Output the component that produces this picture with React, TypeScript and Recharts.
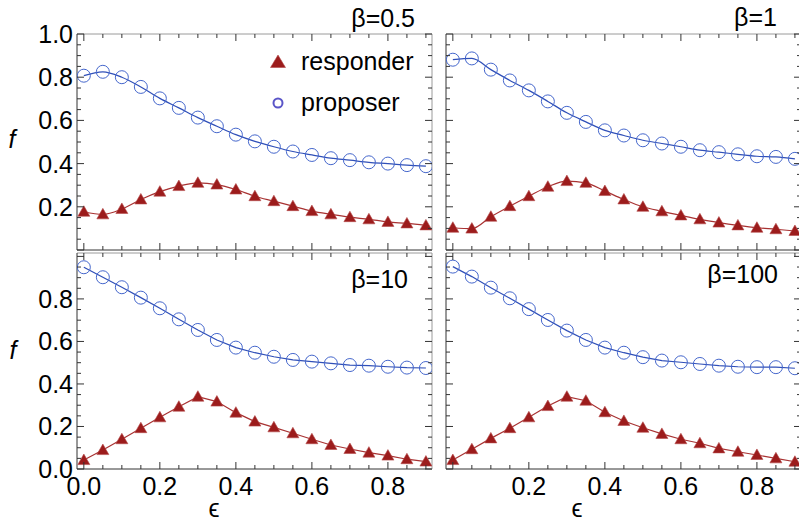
import { Legend, Line, LineChart, XAxis, YAxis } from "recharts";

// epsilon values (x) shared by every panel
const eps = [0, 0.05, 0.1, 0.15, 0.2, 0.25, 0.3, 0.35, 0.4, 0.45, 0.5, 0.55, 0.6, 0.65, 0.7, 0.75, 0.8, 0.85, 0.9];

// beta = 0.5
const responderB05 = [0.177, 0.165, 0.19, 0.234, 0.27, 0.296, 0.311, 0.303, 0.28, 0.249, 0.226, 0.203, 0.18, 0.165, 0.152, 0.142, 0.13, 0.123, 0.114];
const proposerB05 = [0.807, 0.825, 0.8, 0.755, 0.702, 0.658, 0.613, 0.573, 0.534, 0.503, 0.478, 0.456, 0.44, 0.425, 0.416, 0.406, 0.4, 0.393, 0.388];
// beta = 1
const responderB1 = [0.103, 0.099, 0.154, 0.203, 0.249, 0.293, 0.319, 0.311, 0.273, 0.234, 0.2, 0.179, 0.16, 0.142, 0.127, 0.114, 0.103, 0.096, 0.088];
const proposerB1 = [0.881, 0.887, 0.835, 0.785, 0.739, 0.688, 0.635, 0.593, 0.554, 0.53, 0.508, 0.493, 0.478, 0.462, 0.453, 0.443, 0.434, 0.431, 0.422];
// beta = 10
const responderB10 = [0.042, 0.089, 0.14, 0.192, 0.243, 0.293, 0.34, 0.317, 0.265, 0.223, 0.196, 0.168, 0.14, 0.113, 0.094, 0.077, 0.063, 0.046, 0.035];
const proposerB10 = [0.949, 0.902, 0.855, 0.806, 0.756, 0.704, 0.654, 0.607, 0.571, 0.547, 0.528, 0.513, 0.505, 0.497, 0.489, 0.486, 0.481, 0.477, 0.475];
// beta = 100
const responderB100 = [0.042, 0.093, 0.144, 0.192, 0.243, 0.296, 0.34, 0.321, 0.267, 0.226, 0.194, 0.165, 0.14, 0.121, 0.097, 0.081, 0.066, 0.05, 0.034];
const proposerB100 = [0.952, 0.905, 0.853, 0.803, 0.752, 0.701, 0.651, 0.607, 0.571, 0.547, 0.526, 0.51, 0.502, 0.494, 0.486, 0.481, 0.479, 0.479, 0.474];

const seriesNames = ["responder", "proposer"];
const xTicks = [0, 0.05, 0.1, 0.15, 0.2, 0.25, 0.3, 0.35, 0.4, 0.45, 0.5, 0.55, 0.6, 0.65, 0.7, 0.75, 0.8, 0.85, 0.9];
const yTicks = [0, 0.05, 0.1, 0.15, 0.2, 0.25, 0.3, 0.35, 0.4, 0.45, 0.5, 0.55, 0.6, 0.65, 0.7, 0.75, 0.8, 0.85, 0.9, 0.95, 1.0];
const xLabelsLeft = [0, 0.2, 0.4, 0.6, 0.8];
const xLabelsRight = [0.2, 0.4, 0.6, 0.8];
const yLabelsTop = [0.2, 0.4, 0.6, 0.8, 1.0];
const yLabelsBottom = [0, 0.2, 0.4, 0.6, 0.8];

const FONT = '"Liberation Sans", Arial, Helvetica, sans-serif';
const FS = 25;
const RED = "#9c1c1c";
const RED_LINE = "#a83232";
const BLUE = "#4466cc";
const BLUE_LINE = "#2f4fb8";
const DARK = "#333";
const LIGHT = "#9a9a9a";
const X_DOMAIN = [-0.018, 0.916];

const hasValue = (list: number[], v: number) => list.some((l) => Math.abs(l - v) < 1e-6);
const isMajor = (v: number) => Math.abs(v / 0.2 - Math.round(v / 0.2)) < 1e-6;

function FrameTick(props: any) {
  const { x, y, payload, side, labels } = props;
  const v = payload.value;
  const len = isMajor(v) ? 7 : 4;
  let mark;
  let label = null;
  if (side === "bottom") mark = <line x1={x} y1={y} x2={x} y2={y - len} stroke={DARK} />;
  else if (side === "top") mark = <line x1={x} y1={y} x2={x} y2={y + len} stroke={DARK} />;
  else if (side === "left") mark = <line x1={x} y1={y} x2={x + len} y2={y} stroke={DARK} />;
  else mark = <line x1={x} y1={y} x2={x - len} y2={y} stroke={DARK} />;
  if (labels && hasValue(labels, v)) {
    if (side === "bottom")
      label = (
        <text x={x} y={y + 26} textAnchor="middle" fontFamily={FONT} fontSize={FS} fill="#000" stroke="none">
          {v.toFixed(1)}
        </text>
      );
    if (side === "left")
      label = (
        <text x={x - 4} y={y + 9} textAnchor="end" fontFamily={FONT} fontSize={FS} fill="#000" stroke="none">
          {v.toFixed(1)}
        </text>
      );
  }
  return (
    <g>
      {mark}
      {label}
    </g>
  );
}

function TriangleDot(props: any) {
  const { cx, cy } = props;
  if (cx == null || cy == null) return null;
  return (
    <polygon
      points={`${cx},${cy - 6} ${cx - 6},${cy + 4.5} ${cx + 6},${cy + 4.5}`}
      fill={RED}
      stroke="#b54a4a"
      strokeWidth={0.6}
    />
  );
}

function LegendBox(props: any) {
  const items = [...(props.payload || [])].sort(
    (a: any, b: any) => seriesNames.indexOf(a.value) - seriesNames.indexOf(b.value)
  );
  return (
    <div style={{ fontFamily: FONT, fontSize: FS, color: "#000" }}>
      {items.map((entry: any) => (
        <div key={entry.value} style={{ display: "flex", alignItems: "center", height: 41 }}>
          <svg width={24} height={24}>
            {entry.value === "responder" ? (
              <polygon points="12,5 4.5,17.5 19.5,17.5" fill={RED} stroke="#b54a4a" strokeWidth={0.6} />
            ) : (
              <circle cx={12} cy={12} r={4.5} fill="none" stroke="#5a55c8" strokeWidth={2} />
            )}
          </svg>
          <span style={{ marginLeft: 11 }}>{entry.value}</span>
        </div>
      ))}
    </div>
  );
}

function Panel({
  responder,
  proposer,
  left,
  top,
  width,
  height,
  topH,
  bottomH,
  leftW,
  rightW,
  yDomain,
  xLabels,
  yLabels,
  curve,
  legend,
  children,
}: any) {
  const data = eps.map((x, i) => ({ x, responder: responder[i], proposer: proposer[i] }));
  return (
    <div style={{ position: "absolute", left, top, width, height }}>
      <LineChart width={width} height={height} data={data} margin={{ top: 0, right: 0, bottom: 0, left: 0 }}>
        <XAxis
          xAxisId="b"
          dataKey="x"
          type="number"
          domain={X_DOMAIN}
          allowDataOverflow
          ticks={xTicks}
          interval={0}
          height={bottomH}
          tickSize={0}
          tickMargin={0}
          axisLine={{ stroke: DARK }}
          tickLine={false}
          tick={(p: any) => <FrameTick {...p} side="bottom" labels={xLabels} />}
        />
        <XAxis
          xAxisId="t"
          orientation="top"
          dataKey="x"
          type="number"
          domain={X_DOMAIN}
          allowDataOverflow
          ticks={xTicks}
          interval={0}
          height={topH}
          tickSize={0}
          tickMargin={0}
          axisLine={{ stroke: LIGHT }}
          tickLine={false}
          tick={(p: any) => <FrameTick {...p} side="top" />}
        />
        <YAxis
          yAxisId="l"
          type="number"
          domain={yDomain}
          allowDataOverflow
          ticks={yTicks}
          interval={0}
          width={leftW}
          tickSize={0}
          tickMargin={0}
          axisLine={{ stroke: DARK }}
          tickLine={false}
          tick={(p: any) => <FrameTick {...p} side="left" labels={yLabels} />}
        />
        <YAxis
          yAxisId="r"
          orientation="right"
          type="number"
          domain={yDomain}
          allowDataOverflow
          ticks={yTicks}
          interval={0}
          width={rightW}
          tickSize={0}
          tickMargin={0}
          axisLine={{ stroke: LIGHT }}
          tickLine={false}
          tick={(p: any) => <FrameTick {...p} side="right" />}
        />
        <Line
          xAxisId="b"
          yAxisId="l"
          name="responder"
          dataKey="responder"
          type={curve}
          stroke={RED_LINE}
          strokeWidth={1.2}
          dot={(p: any) => <TriangleDot key={`t-${p.index}`} {...p} />}
          isAnimationActive={false}
        />
        <Line
          xAxisId="b"
          yAxisId="l"
          name="proposer"
          dataKey="proposer"
          type={curve}
          stroke={BLUE_LINE}
          strokeWidth={1.2}
          dot={{ r: 6.5, fill: "none", stroke: BLUE, strokeWidth: 1 }}
          isAnimationActive={false}
        />
        {legend && (
          <Legend
            layout="vertical"
            align="center"
            verticalAlign="middle"
            content={<LegendBox />}
            wrapperStyle={{ position: "absolute", left: 266, top: 41, width: "auto", height: "auto" }}
          />
        )}
        {children}
      </LineChart>
    </div>
  );
}

const textStyle = { fontFamily: FONT, fontSize: FS, fill: "#000" };

export default function App() {
  return (
    <div
      style={{
        position: "absolute",
        left: 0,
        top: 0,
        width: 799,
        height: 528,
        overflow: "hidden",
        background: "#fff",
      }}
    >
      <Panel
        responder={responderB05}
        proposer={proposerB05}
        left={0}
        top={0}
        width={445}
        height={260}
        topH={34}
        bottomH={10}
        leftW={77}
        rightW={13}
        yDomain={[0, 1]}
        xLabels={[]}
        yLabels={yLabelsTop}
        curve="monotone"
        legend
      >
        <text x={415} y={27} textAnchor="end" {...textStyle}>
          β=0.5
        </text>
        <text x={12} y={148} textAnchor="middle" {...textStyle} fontStyle="italic">
          f
        </text>
      </Panel>
      <Panel
        responder={responderB1}
        proposer={proposerB1}
        left={440}
        top={0}
        width={375}
        height={260}
        topH={34}
        bottomH={10}
        leftW={6}
        rightW={14}
        yDomain={[0, 1]}
        xLabels={[]}
        yLabels={[]}
        curve="monotone"
      >
        <text x={337} y={26} textAnchor="end" {...textStyle}>
          β=1
        </text>
      </Panel>
      <Panel
        responder={responderB10}
        proposer={proposerB10}
        left={0}
        top={243}
        width={445}
        height={285}
        topH={10}
        bottomH={59}
        leftW={77}
        rightW={13}
        yDomain={[0, 1.016]}
        xLabels={xLabelsLeft}
        yLabels={yLabelsBottom}
        curve="linear"
      >
        <text x={408} y={45} textAnchor="end" {...textStyle}>
          β=10
        </text>
        <text x={13} y={116} textAnchor="middle" {...textStyle} fontStyle="italic">
          f
        </text>
        <text x={214} y={274} textAnchor="middle" {...textStyle}>
          ϵ
        </text>
      </Panel>
      <Panel
        responder={responderB100}
        proposer={proposerB100}
        left={440}
        top={243}
        width={375}
        height={285}
        topH={10}
        bottomH={59}
        leftW={6}
        rightW={14}
        yDomain={[0, 1.016]}
        xLabels={xLabelsRight}
        yLabels={[]}
        curve="linear"
      >
        <text x={338} y={40} textAnchor="end" {...textStyle}>
          β=100
        </text>
        <text x={137} y={274} textAnchor="middle" {...textStyle}>
          ϵ
        </text>
      </Panel>
    </div>
  );
}
